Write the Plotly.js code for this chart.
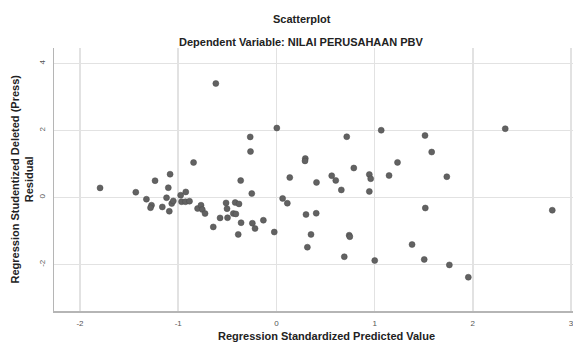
<!DOCTYPE html>
<html>
<head>
<meta charset="utf-8">
<script src="https://cdn.plot.ly/plotly-3.0.1.min.js"></script>
<style>html,body{margin:0;padding:0;background:#fff;}#chart{width:573px;height:345px;}</style>
</head>
<body>
<div id="chart"></div>
<script>
const chartTitle = "Scatterplot";
const chartSubtitle = "Dependent Variable: NILAI PERUSAHAAN PBV";
const xAxisTitle = "Regression Standardized Predicted Value";
const yAxisTitle = "Regression Studentized Deleted (Press)<br>Residual";

const xTickVals = [-2, -1, 0, 1, 2, 3];
const yTickVals = [-2, 0, 2, 4];

const predictedValues = [
  -1.796, -1.432, -1.324, -1.272, -1.282, -1.236, -1.162, -1.119, -1.101, -1.083,
  -1.091, -1.066, -1.050, -0.975, -0.966, -0.926, -0.885, -0.923, -0.844, -0.803,
  -0.768, -0.755, -0.727, -0.643, -0.617, -0.574, -0.513, -0.503, -0.498, -0.439,
  -0.413, -0.420, -0.381, -0.364, -0.360, -0.389, -0.267, -0.264, -0.251, -0.245,
  -0.218, -0.133, -0.022, 0.004, 0.063, 0.111, 0.136, 0.294, 0.291, 0.301,
  0.405, 0.352, 0.315, 0.408, 0.563, 0.604, 0.661, 0.716, 0.788, 0.741,
  0.747, 0.691, 0.946, 0.960, 0.946, 1.001, 1.067, 1.147, 1.233, 1.381,
  1.505, 1.513, 1.516, 1.581, 1.735, 1.761, 1.954, 2.330, 2.809
];
const deletedResiduals = [
  0.284, 0.155, -0.054, -0.233, -0.307, 0.499, -0.284, -0.009, 0.290, 0.693,
  -0.412, -0.182, -0.104, 0.066, -0.128, -0.128, -0.113, 0.164, 1.042, -0.331,
  -0.233, -0.361, -0.481, -0.881, 3.400, -0.612, -0.164, -0.337, -0.606, -0.481,
  -0.493, -0.152, -0.194, 0.504, -0.755, -1.104, 1.806, 1.370, 0.116, -0.770,
  -0.928, -0.681, -1.033, 2.072, -0.030, -0.173, 0.594, 1.161, 1.090, -0.510,
  -0.472, -1.104, -1.486, 0.448, 0.648, 0.507, 0.224, 1.812, 0.878, -1.128,
  -1.173, -1.770, 0.684, 0.558, 0.179, -1.884, 2.006, 0.654, 1.045, -1.406,
  -1.851, 1.848, -0.316, 1.355, 0.618, -2.015, -2.382, 2.051, -0.382
];

const trace = {
  type: "scatter",
  mode: "markers",
  x: predictedValues,
  y: deletedResiduals,
  marker: {color: "#626262", size: 6, line: {color: "#4a4a4a", width: 0.5}},
  hoverinfo: "x+y"
};

const tickFont = {family: "Liberation Sans, Arial, sans-serif", size: 8, color: "#555"};
const boldFont = {family: "Liberation Sans, Arial, sans-serif", size: 11, color: "#222", weight: "bold"};

const layout = {
  width: 573, height: 345,
  margin: {l: 54, r: 0, t: 48, b: 34, pad: 0},
  paper_bgcolor: "#fff", plot_bgcolor: "#fff",
  showlegend: false,
  xaxis: {
    range: [-2.265, 3.02], tickvals: xTickVals, ticktext: xTickVals.map(String),
    showgrid: true, gridcolor: "#e2e2e2", gridwidth: 1.5, zeroline: false,
    showline: true, linecolor: "#b5b5b5", linewidth: 1.5, mirror: false,
    ticks: "", ticklen: 0, tickfont: tickFont, ticklabelstandoff: 4,
    ticklabeloverflow: "allow"
  },
  yaxis: {
    range: [-3.39, 4.46], tickvals: yTickVals, ticktext: yTickVals.map(String),
    showgrid: true, gridcolor: "#e2e2e2", gridwidth: 1.5, zeroline: false,
    showline: true, linecolor: "#b5b5b5", linewidth: 1.5, mirror: false,
    ticks: "", ticklen: 0, tickfont: tickFont, tickangle: -90, ticklabelstandoff: 4
  },
  annotations: [
    {text: "<b>" + chartTitle + "</b>", xref: "paper", yref: "paper", x: 0, y: 1,
     xanchor: "center", yanchor: "middle", xshift: 301.5 - 54, yshift: 48 - 19,
     showarrow: false, font: boldFont},
    {text: "<b>" + chartSubtitle + "</b>", xref: "paper", yref: "paper", x: 0, y: 1,
     xanchor: "center", yanchor: "middle", xshift: 301.5 - 54, yshift: 48 - 42,
     showarrow: false, font: boldFont},
    {text: "<b>" + xAxisTitle + "</b>", xref: "paper", yref: "paper", x: 0, y: 0,
     xanchor: "center", yanchor: "middle", xshift: 326 - 54, yshift: -(336 - 311),
     showarrow: false, font: boldFont},
    {text: "<b>" + yAxisTitle + "</b>", xref: "paper", yref: "paper", x: 0, y: 0.5,
     xanchor: "center", yanchor: "middle", xshift: 21 - 54, textangle: -90,
     showarrow: false, font: boldFont}
  ]
};

Plotly.newPlot("chart", [trace], layout, {displayModeBar: false, staticPlot: true});
</script>
</body>
</html>
